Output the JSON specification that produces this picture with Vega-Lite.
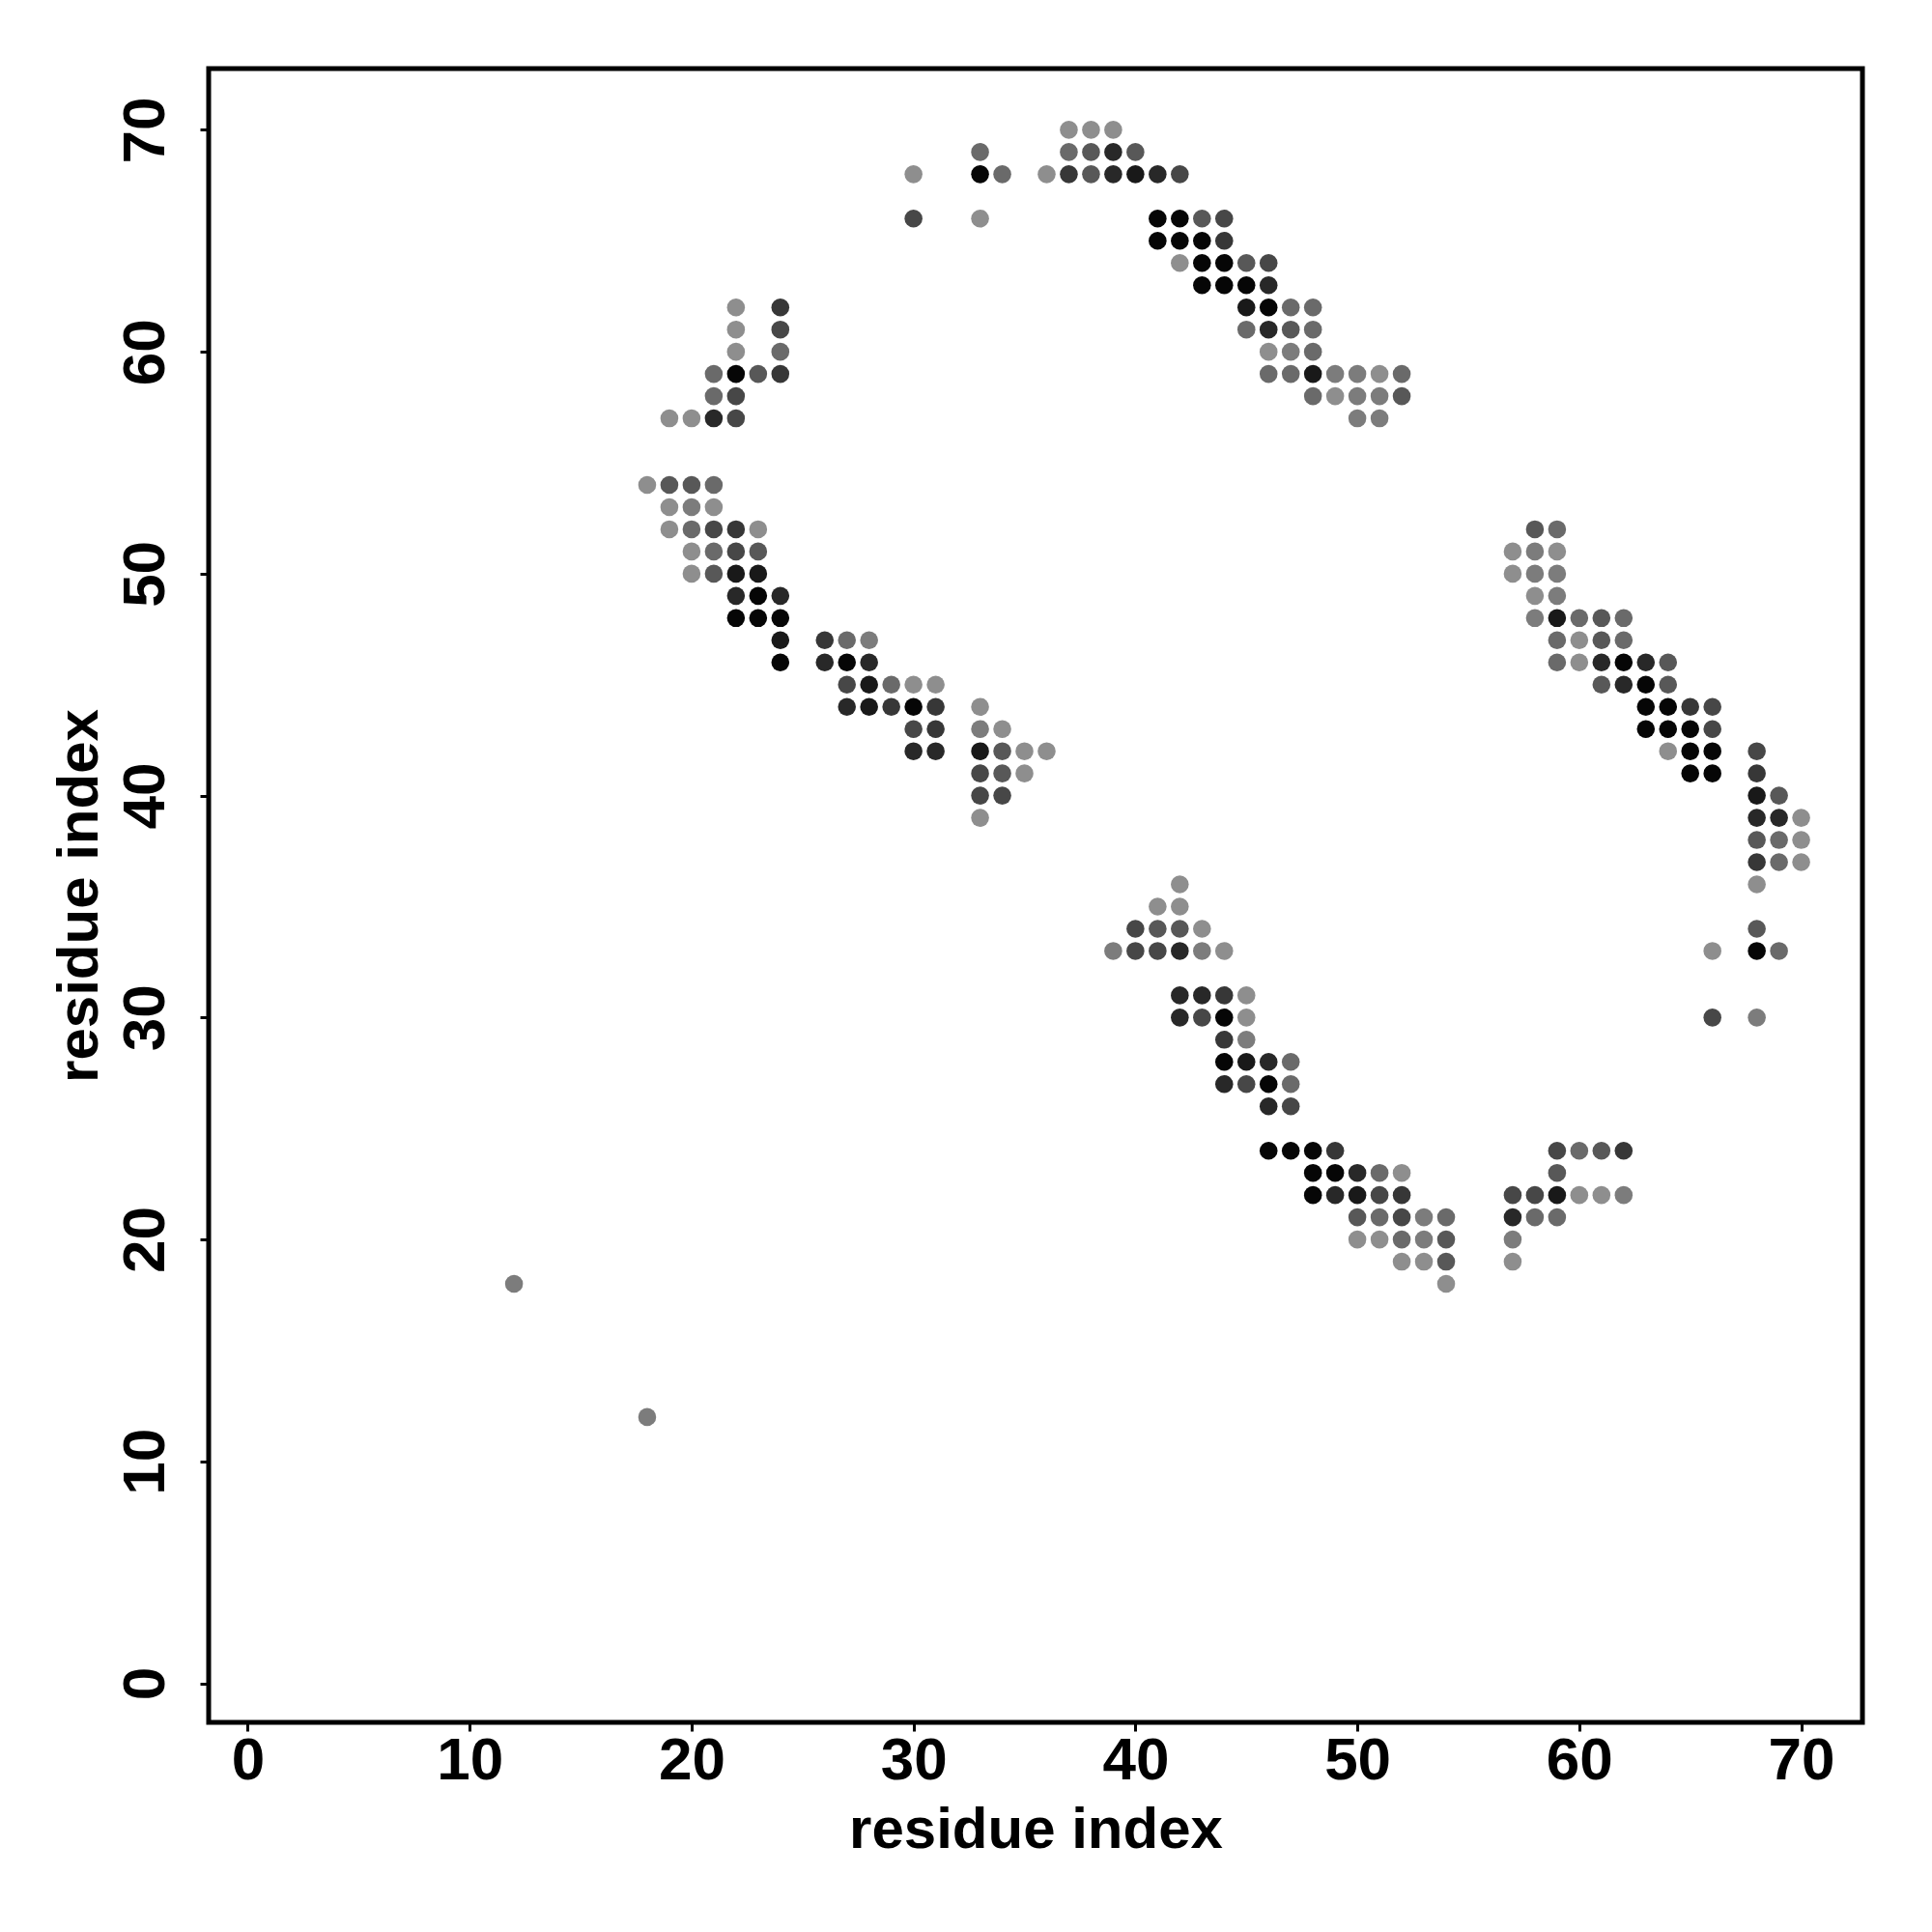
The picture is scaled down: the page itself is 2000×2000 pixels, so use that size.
{
  "$schema": "https://vega.github.io/schema/vega-lite/v6.json",
  "autosize": "none",
  "width": 1712,
  "height": 1712,
  "padding": {"left": 216, "top": 71, "right": 72, "bottom": 217},
  "background": "white",
  "config": {
    "view": {"stroke": "black", "strokeWidth": 5, "fill": null},
    "font": "Liberation Sans"
  },
  "data": {"values": [
    {"i":30,"j":68,"g":1},{"i":30,"j":66,"g":3},{"i":33,"j":69,"g":2},{"i":33,"j":68,"g":5},{"i":34,"j":68,"g":2},{"i":33,"j":66,"g":1},{"i":36,"j":68,"g":1},
    {"i":22,"j":62,"g":1},{"i":24,"j":62,"g":3.5},{"i":22,"j":61,"g":1},{"i":24,"j":61,"g":3},{"i":22,"j":60,"g":1},{"i":24,"j":60,"g":2},
    {"i":21,"j":59,"g":2},{"i":22,"j":59,"g":5},{"i":23,"j":59,"g":2.5},{"i":24,"j":59,"g":3.5},{"i":21,"j":58,"g":2},{"i":22,"j":58,"g":3},
    {"i":19,"j":57,"g":1},{"i":20,"j":57,"g":1},{"i":21,"j":57,"g":4},{"i":22,"j":57,"g":3},
    {"i":18,"j":54,"g":1},{"i":19,"j":54,"g":2.5},{"i":20,"j":54,"g":2.5},{"i":21,"j":54,"g":2},
    {"i":19,"j":53,"g":1},{"i":20,"j":53,"g":1.5},{"i":21,"j":53,"g":1},
    {"i":19,"j":52,"g":1},{"i":20,"j":52,"g":2},{"i":21,"j":52,"g":3},{"i":22,"j":52,"g":3.5},{"i":23,"j":52,"g":1},
    {"i":20,"j":51,"g":1},{"i":21,"j":51,"g":2},{"i":22,"j":51,"g":3},{"i":23,"j":51,"g":2.5},
    {"i":20,"j":50,"g":1},{"i":21,"j":50,"g":2.5},{"i":22,"j":50,"g":4.5},{"i":23,"j":50,"g":4.5},
    {"i":22,"j":49,"g":4},{"i":23,"j":49,"g":5},{"i":24,"j":49,"g":4},
    {"i":22,"j":48,"g":5},{"i":23,"j":48,"g":5},{"i":24,"j":48,"g":5},
    {"i":24,"j":47,"g":4.5},{"i":26,"j":47,"g":3.5},{"i":27,"j":47,"g":2},{"i":28,"j":47,"g":1.5},
    {"i":24,"j":46,"g":5},{"i":26,"j":46,"g":4},{"i":27,"j":46,"g":5},{"i":28,"j":46,"g":4},
    {"i":27,"j":45,"g":3},{"i":28,"j":45,"g":4.5},{"i":29,"j":45,"g":2},{"i":30,"j":45,"g":1},{"i":31,"j":45,"g":1},
    {"i":27,"j":44,"g":4},{"i":28,"j":44,"g":4.5},{"i":29,"j":44,"g":3.5},{"i":30,"j":44,"g":5},{"i":31,"j":44,"g":3.5},
    {"i":30,"j":43,"g":3},{"i":31,"j":43,"g":3.5},{"i":30,"j":42,"g":4},{"i":31,"j":42,"g":4},
    {"i":33,"j":44,"g":1},{"i":33,"j":43,"g":1.5},{"i":34,"j":43,"g":1},
    {"i":33,"j":42,"g":4.5},{"i":34,"j":42,"g":2.5},{"i":35,"j":42,"g":1},{"i":36,"j":42,"g":1},
    {"i":33,"j":41,"g":3},{"i":34,"j":41,"g":2.5},{"i":35,"j":41,"g":1},
    {"i":33,"j":40,"g":3},{"i":34,"j":40,"g":3},{"i":33,"j":39,"g":1},
    {"i":37,"j":70,"g":1},{"i":38,"j":70,"g":1},{"i":39,"j":70,"g":1},
    {"i":37,"j":69,"g":2},{"i":38,"j":69,"g":2.5},{"i":39,"j":69,"g":4},{"i":40,"j":69,"g":2.5},
    {"i":37,"j":68,"g":3.5},{"i":38,"j":68,"g":2.5},{"i":39,"j":68,"g":4},{"i":40,"j":68,"g":4.5},{"i":41,"j":68,"g":4},{"i":42,"j":68,"g":3},
    {"i":41,"j":66,"g":5},{"i":42,"j":66,"g":5},{"i":43,"j":66,"g":2.5},{"i":44,"j":66,"g":3},
    {"i":41,"j":65,"g":5},{"i":42,"j":65,"g":5},{"i":43,"j":65,"g":5},{"i":44,"j":65,"g":3.5},
    {"i":42,"j":64,"g":1},{"i":43,"j":64,"g":5},{"i":44,"j":64,"g":5},{"i":45,"j":64,"g":2.5},{"i":46,"j":64,"g":3},
    {"i":43,"j":63,"g":5},{"i":44,"j":63,"g":5},{"i":45,"j":63,"g":5},{"i":46,"j":63,"g":4},
    {"i":45,"j":62,"g":4.5},{"i":46,"j":62,"g":5},{"i":47,"j":62,"g":2},{"i":48,"j":62,"g":2},
    {"i":45,"j":61,"g":2},{"i":46,"j":61,"g":4},{"i":47,"j":61,"g":2.5},{"i":48,"j":61,"g":2},
    {"i":46,"j":60,"g":1},{"i":47,"j":60,"g":1.5},{"i":48,"j":60,"g":2},
    {"i":46,"j":59,"g":2},{"i":47,"j":59,"g":2},{"i":48,"j":59,"g":4.5},{"i":49,"j":59,"g":1.5},{"i":50,"j":59,"g":1.5},{"i":51,"j":59,"g":1},{"i":52,"j":59,"g":2},
    {"i":48,"j":58,"g":2},{"i":49,"j":58,"g":1},{"i":50,"j":58,"g":1.5},{"i":51,"j":58,"g":1.5},{"i":52,"j":58,"g":2.5},
    {"i":50,"j":57,"g":1.5},{"i":51,"j":57,"g":1.5},
    {"i":58,"j":52,"g":2.5},{"i":59,"j":52,"g":2},
    {"i":57,"j":51,"g":1},{"i":58,"j":51,"g":1.5},{"i":59,"j":51,"g":1},
    {"i":57,"j":50,"g":1},{"i":58,"j":50,"g":1.5},{"i":59,"j":50,"g":1.5},
    {"i":58,"j":49,"g":1},{"i":59,"j":49,"g":1.5},
    {"i":58,"j":48,"g":1.5},{"i":59,"j":48,"g":4.5},{"i":60,"j":48,"g":2},{"i":61,"j":48,"g":2.5},{"i":62,"j":48,"g":2},
    {"i":59,"j":47,"g":2},{"i":60,"j":47,"g":1},{"i":61,"j":47,"g":2.5},{"i":62,"j":47,"g":2},
    {"i":59,"j":46,"g":2},{"i":60,"j":46,"g":1},{"i":61,"j":46,"g":4},{"i":62,"j":46,"g":5},{"i":63,"j":46,"g":4},{"i":64,"j":46,"g":2.5},
    {"i":61,"j":45,"g":2.5},{"i":62,"j":45,"g":4},{"i":63,"j":45,"g":5},{"i":64,"j":45,"g":2.5},
    {"i":63,"j":44,"g":5},{"i":64,"j":44,"g":5},{"i":65,"j":44,"g":3.5},{"i":66,"j":44,"g":3},
    {"i":63,"j":43,"g":5},{"i":64,"j":43,"g":5},{"i":65,"j":43,"g":5},{"i":66,"j":43,"g":3},
    {"i":64,"j":42,"g":1},{"i":65,"j":42,"g":5},{"i":66,"j":42,"g":5},{"i":68,"j":42,"g":3},
    {"i":65,"j":41,"g":5},{"i":66,"j":41,"g":5},{"i":68,"j":41,"g":3.5},
    {"i":68,"j":40,"g":4.5},{"i":69,"j":40,"g":2.5},
    {"i":68,"j":39,"g":4},{"i":69,"j":39,"g":4},{"i":70,"j":39,"g":1},
    {"i":68,"j":38,"g":2.5},{"i":69,"j":38,"g":2},{"i":70,"j":38,"g":1},
    {"i":68,"j":37,"g":3.5},{"i":69,"j":37,"g":2},{"i":70,"j":37,"g":1},
    {"i":68,"j":36,"g":1},
    {"i":68,"j":34,"g":2.5},{"i":66,"j":33,"g":1},{"i":68,"j":33,"g":5},{"i":69,"j":33,"g":2},{"i":66,"j":30,"g":3},{"i":68,"j":30,"g":1.5},
    {"i":59,"j":24,"g":3},{"i":60,"j":24,"g":2},{"i":61,"j":24,"g":2.5},{"i":62,"j":24,"g":3.5},
    {"i":59,"j":23,"g":2.5},
    {"i":57,"j":22,"g":3},{"i":58,"j":22,"g":3},{"i":59,"j":22,"g":4.5},{"i":60,"j":22,"g":1},{"i":61,"j":22,"g":1},{"i":62,"j":22,"g":1.5},
    {"i":57,"j":21,"g":4},{"i":58,"j":21,"g":2},{"i":59,"j":21,"g":2},
    {"i":57,"j":20,"g":1.5},{"i":57,"j":19,"g":1},
    {"i":42,"j":36,"g":1},
    {"i":41,"j":35,"g":1},{"i":42,"j":35,"g":1},
    {"i":40,"j":34,"g":3},{"i":41,"j":34,"g":2.5},{"i":42,"j":34,"g":2.5},{"i":43,"j":34,"g":1},
    {"i":39,"j":33,"g":1.5},{"i":40,"j":33,"g":3},{"i":41,"j":33,"g":3},{"i":42,"j":33,"g":4},{"i":43,"j":33,"g":1.5},{"i":44,"j":33,"g":1},
    {"i":42,"j":31,"g":4},{"i":43,"j":31,"g":4},{"i":44,"j":31,"g":3.5},{"i":45,"j":31,"g":1},
    {"i":42,"j":30,"g":4},{"i":43,"j":30,"g":3},{"i":44,"j":30,"g":5},{"i":45,"j":30,"g":1},
    {"i":44,"j":29,"g":3.5},{"i":45,"j":29,"g":1.5},
    {"i":44,"j":28,"g":5},{"i":45,"j":28,"g":4.5},{"i":46,"j":28,"g":4},{"i":47,"j":28,"g":2},
    {"i":44,"j":27,"g":4},{"i":45,"j":27,"g":3},{"i":46,"j":27,"g":5},{"i":47,"j":27,"g":2},
    {"i":46,"j":26,"g":4},{"i":47,"j":26,"g":3},
    {"i":46,"j":24,"g":5},{"i":47,"j":24,"g":5},{"i":48,"j":24,"g":5},{"i":49,"j":24,"g":3.5},
    {"i":48,"j":23,"g":5},{"i":49,"j":23,"g":5},{"i":50,"j":23,"g":4},{"i":51,"j":23,"g":2},{"i":52,"j":23,"g":1},
    {"i":48,"j":22,"g":5},{"i":49,"j":22,"g":4},{"i":50,"j":22,"g":4.5},{"i":51,"j":22,"g":3},{"i":52,"j":22,"g":3.5},
    {"i":50,"j":21,"g":2.5},{"i":51,"j":21,"g":2},{"i":52,"j":21,"g":3},{"i":53,"j":21,"g":1.5},{"i":54,"j":21,"g":2},
    {"i":50,"j":20,"g":1},{"i":51,"j":20,"g":1},{"i":52,"j":20,"g":2},{"i":53,"j":20,"g":1.5},{"i":54,"j":20,"g":2.5},
    {"i":52,"j":19,"g":1},{"i":53,"j":19,"g":1},{"i":54,"j":19,"g":2.5},
    {"i":54,"j":18,"g":1},
    {"i":12,"j":18,"g":1.5},{"i":18,"j":12,"g":1.5}
  ]},
  "mark": {"type": "point", "filled": true, "opacity": 1, "size": 345, "shape": "circle", "strokeWidth": 0},
  "encoding": {
    "x": {
      "field": "i", "type": "quantitative",
      "scale": {"domain": [-1.76, 72.76], "nice": false, "zero": false},
      "axis": {
        "title": "residue index", "values": [0, 10, 20, 30, 40, 50, 60, 70],
        "grid": false, "domain": false,
        "ticks": true, "tickSize": 9, "tickWidth": 3, "tickColor": "black",
        "labelFont": "Liberation Sans", "labelFontWeight": "bold", "labelFontSize": 62, "labelColor": "black",
        "labelBaseline": "alphabetic", "labelPadding": 49, "labelFlush": false, "labelOverlap": false,
        "titleFont": "Liberation Sans", "titleFontWeight": "bold", "titleFontSize": 60, "titleColor": "black",
        "titleBaseline": "alphabetic", "titleY": 129, "titleX": 856, "titleAlign": "center"
      }
    },
    "y": {
      "field": "j", "type": "quantitative",
      "scale": {"domain": [-1.76, 72.76], "nice": false, "zero": false},
      "axis": {
        "title": "residue index", "values": [0, 10, 20, 30, 40, 50, 60, 70],
        "grid": false, "domain": false,
        "ticks": true, "tickSize": 9, "tickWidth": 3, "tickColor": "black",
        "labelFont": "Liberation Sans", "labelFontWeight": "bold", "labelFontSize": 62, "labelColor": "black",
        "labelAngle": -90, "labelAlign": "center", "labelBaseline": "alphabetic", "labelPadding": 38,
        "labelFlush": false, "labelOverlap": false,
        "titleFont": "Liberation Sans", "titleFontWeight": "bold", "titleFontSize": 60, "titleColor": "black",
        "titleAngle": -90, "titleBaseline": "alphabetic", "titleAlign": "center", "titleX": -116, "titleY": 856
      }
    },
    "color": {
      "field": "g", "type": "quantitative",
      "scale": {"domain": [1, 5], "range": ["#8e8e8e", "#060606"]},
      "legend": null
    }
  }
}
